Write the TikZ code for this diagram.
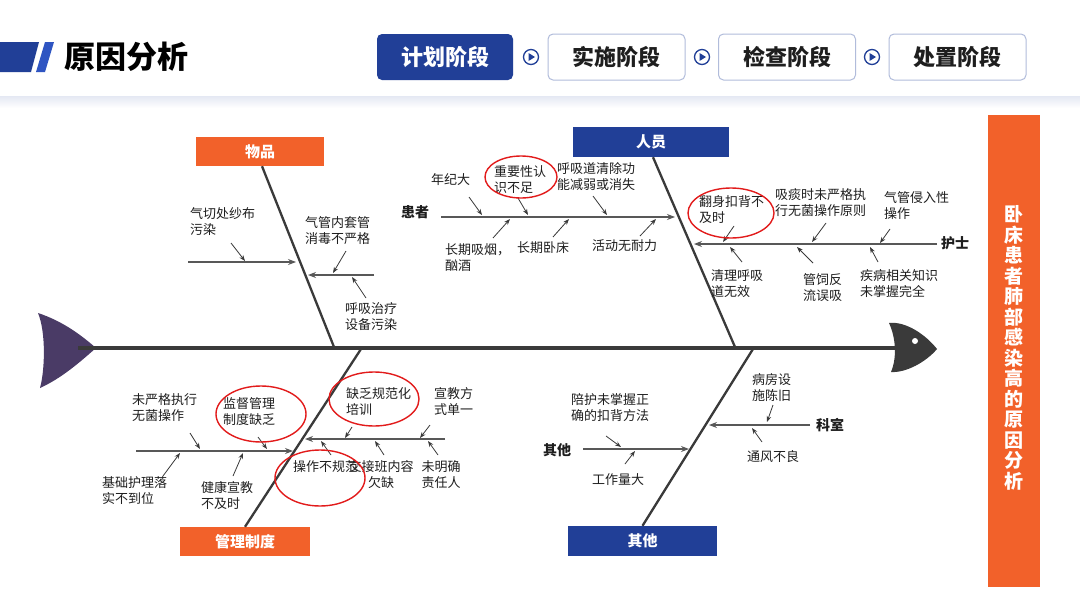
\documentclass[tikz,border=0pt]{standalone}
\usepackage{fontspec}
\setmainfont{Noto Sans CJK SC}
\usetikzlibrary{arrows.meta,calc,shapes.geometric}
\definecolor{navy}{HTML}{213F97}
\definecolor{navyB}{HTML}{2F55C2}
\definecolor{orangeC}{HTML}{F2612A}
\definecolor{boneC}{HTML}{3A3A3A}
\definecolor{tailC}{HTML}{4A3B66}
\definecolor{txtC}{HTML}{1E1E1E}
\definecolor{ringC}{HTML}{E21B1B}
\tikzset{
  lbl/.style={font=\fontsize{13}{16}\selectfont, align=left, inner sep=0pt, anchor=west, text=txtC},
  clbl/.style={font=\fontsize{13}{16}\selectfont, align=center, inner sep=0pt, text=txtC},
  cat/.style={font=\bfseries\fontsize{14}{16}\selectfont, inner sep=0pt, text=txtC},
  obox/.style={fill=orangeC, text=white, font=\bfseries\fontsize{15}{18}\selectfont, inner sep=0pt},
  bbox/.style={fill=navy, text=white, font=\bfseries\fontsize{15}{18}\selectfont, inner sep=0pt},
  bone/.style={line width=2.3pt, draw=boneC},
  subb/.style={line width=1.1pt, draw=boneC!85, -{Stealth[length=8pt,width=6pt]}},
  sarr/.style={line width=0.8pt, draw=boneC, -{Stealth[length=6pt,width=4.5pt]}},
  ring/.style={draw=ringC, line width=1.4pt},
  tabA/.style={fill=navy, text=white, rounded corners=5pt, minimum width=136pt, minimum height=46pt, font=\bfseries\fontsize{22}{24}\selectfont, inner sep=0pt},
  tabB/.style={fill=white, draw=navy!35, line width=1pt, text=txtC, rounded corners=5pt, minimum width=137pt, minimum height=46pt, font=\bfseries\fontsize{22}{24}\selectfont, inner sep=0pt},
  icon/.style={circle, draw=navy, line width=1.3pt, minimum size=15pt, inner sep=0pt}
}
\begin{document}
\begin{tikzpicture}[x=1pt,y=-1pt]
\useasboundingbox (0,0) rectangle (1080,608);
\fill[white] (0,0) rectangle (1080,608);
% header
\shade[top color=navy!12, bottom color=white] (0,96) rectangle (1080,108);
\fill[navy] (0,42) -- (39,42) -- (31,72) -- (0,72) -- cycle;
\fill[navyB] (45,42) -- (54,42) -- (45,72) -- (36,72) -- cycle;
\node[font=\bfseries\fontsize{31}{34}\selectfont, anchor=west, inner sep=0pt] (title) at (64,57) {原因分析};
\node[tabA] (t1) at (445,57) {计划阶段};
\node[tabB] (t2) at (616.5,57) {实施阶段};
\node[tabB] (t3) at (787,57) {检查阶段};
\node[tabB] (t4) at (957.5,57) {处置阶段};
\foreach \n/\x in {i1/531,i2/702,i3/872}{
  \node[icon] (\n) at (\x,57) {};
  \fill[navy] ($(\n)+(-2.5,-4)$) -- ($(\n)+(4,0)$) -- ($(\n)+(-2.5,4)$) -- cycle;
}
% right title bar
\fill[orangeC] (988,115) rectangle (1040,587);
\node[font=\bfseries\fontsize{19}{20.5}\selectfont, text=white, align=center, inner sep=0pt] (rt) at (1014,348) {卧\\床\\患\\者\\肺\\部\\感\\染\\高\\的\\原\\因\\分\\析};
% tail and head
\fill[tailC] (38,313) .. controls (62,321) and (80,334) .. (96,348) .. controls (80,362) and (62,378) .. (40,388) .. controls (45,370) and (46,332) .. cycle;
\draw[line width=4.5pt, draw=boneC] (78,348) coordinate (sp1) -- (896,348) coordinate (sp2);
\fill[boneC] (889,323) .. controls (906,321) and (926,335) .. (937,349) .. controls (926,362) and (906,373) .. (891,372) .. controls (897,358) and (896,338) .. cycle;
\fill[white] (915,341) circle (3pt);
% category boxes
\node[obox, minimum width=128pt, minimum height=29pt] (wupin) at (260,151.5) {物品};
\node[bbox, minimum width=156pt, minimum height=30pt] (renyuan) at (651,142) {人员};
\node[obox, minimum width=130pt, minimum height=29pt] (guanli) at (245,541.5) {管理制度};
\node[bbox, minimum width=149pt, minimum height=30pt] (qita) at (642.5,541) {其他};
% main bones
\coordinate (wb) at (334,347);
\coordinate (rb) at (735,347);
\coordinate (gb) at (361,349);
\coordinate (qb) at (753,349);
\draw[bone] ($(wupin.south)+(2,0)$) -- (wb);
\draw[bone] ($(renyuan.south)+(2,0)$) -- (rb);
\draw[bone] (guanli.north) -- (gb);
\draw[bone] (qita.north) -- (qb);
% ---- 物品
\draw[subb] (188,262) -- (296,262);
\draw[subb] (374,275) -- (308,275);
\node[lbl] (w1) at (190,222) {气切处纱布\\污染};
\node[lbl] (w2) at (305,231) {气管内套管\\消毒不严格};
\node[lbl] (w3) at (345,317) {呼吸治疗\\设备污染};
\draw[sarr] (231,243) -- (245,261);
\draw[sarr] (346,251) -- (333,273);
\draw[sarr] (366,298) -- (352,277);
% ---- 人员 / 患者
\node[cat] (huanzhe) at (415,212) {患者};
\draw[subb] (441,217) -- (675,217);
\node[lbl] (h1) at (431,180) {年纪大};
\node[lbl] (h2) at (494,180) {重要性认\\识不足};
\node[lbl] (h3) at (557,177) {呼吸道清除功\\能减弱或消失};
\node[lbl] (h4) at (445,258) {长期吸烟，\\酗酒};
\node[lbl] (h5) at (517,248) {长期卧床};
\node[lbl] (h6) at (592,246) {活动无耐力};
\draw[sarr] (469,197) -- (482,215);
\draw[sarr] (518,198) -- (528,215);
\draw[sarr] (593,196) -- (607,215);
\draw[sarr] (493,238) -- (510,219);
\draw[sarr] (553,237) -- (569,219);
\draw[sarr] (640,236) -- (656,219);
\draw[ring] (521,177) ellipse [x radius=36pt, y radius=21pt];
% ---- 护士
\node[cat] (hushi) at (955,243) {护士};
\draw[subb] (937,244) -- (694,244);
\node[lbl] (n1) at (699,210) {翻身扣背不\\及时};
\node[lbl] (n2) at (775,203) {吸痰时未严格执\\行无菌操作原则};
\node[lbl] (n3) at (884,206) {气管侵入性\\操作};
\node[lbl] (n4) at (711,284) {清理呼吸\\道无效};
\node[lbl] (n5) at (803,288) {管饲反\\流误吸};
\node[lbl] (n6) at (860,284) {疾病相关知识\\未掌握完全};
\draw[sarr] (734,226) -- (723,242);
\draw[sarr] (826,223) -- (812,242);
\draw[sarr] (890,229) -- (880,243);
\draw[sarr] (742,262) -- (730,247);
\draw[sarr] (813,263) -- (797,247);
\draw[sarr] (878,262) -- (870,247);
\draw[ring] (731,213) ellipse [x radius=43pt, y radius=25pt];
% ---- 管理制度
\draw[subb] (136,451) -- (293,451);
\draw[subb] (445,439) -- (305,439);
\node[lbl] (g1) at (132,408) {未严格执行\\无菌操作};
\node[lbl] (g2) at (223,412) {监督管理\\制度缺乏};
\node[lbl] (g3) at (346,402) {缺乏规范化\\培训};
\node[lbl] (g4) at (434,402) {宣教方\\式单一};
\node[lbl] (g5) at (102,491) {基础护理落\\实不到位};
\node[lbl] (g6) at (201,495) {健康宣教\\不及时};
\node[lbl] (g7) at (293,467) {操作不规范};
\node[clbl] (g8) at (381,475) {交接班内容\\欠缺};
\node[clbl] (g9) at (441,475) {未明确\\责任人};
\draw[sarr] (190,433) -- (200,449);
\draw[sarr] (258,437) -- (267,449);
\draw[sarr] (163,476) -- (180,453);
\draw[sarr] (233,476) -- (243,453);
\draw[sarr] (352,427) -- (345,438);
\draw[sarr] (430,425) -- (420,438);
\draw[sarr] (331,455) -- (321,441);
\draw[sarr] (384,455) -- (375,441);
\draw[sarr] (438,455) -- (428,441);
\draw[ring] (261,414) ellipse [x radius=45pt, y radius=28pt];
\draw[ring] (374,399) ellipse [x radius=45pt, y radius=27pt];
\draw[ring] (320,478) ellipse [x radius=45pt, y radius=28pt];
% ---- 其他 / 科室
\node[cat] (keshi) at (830,425) {科室};
\draw[subb] (810,425) -- (709,425);
\node[lbl] (k1) at (752,388) {病房设\\施陈旧};
\node[lbl] (k2) at (747,457) {通风不良};
\draw[sarr] (773,405) -- (767,422);
\draw[sarr] (762,442) -- (752,428);
\node[cat] (qtl) at (557,450) {其他};
\draw[subb] (583,449) -- (689,449);
\node[lbl] (q1) at (571,408) {陪护未掌握正\\确的扣背方法};
\node[lbl] (q2) at (592,480) {工作量大};
\draw[sarr] (606,436) -- (621,447);
\draw[sarr] (625,464) -- (635,451);
\end{tikzpicture}
\end{document}
